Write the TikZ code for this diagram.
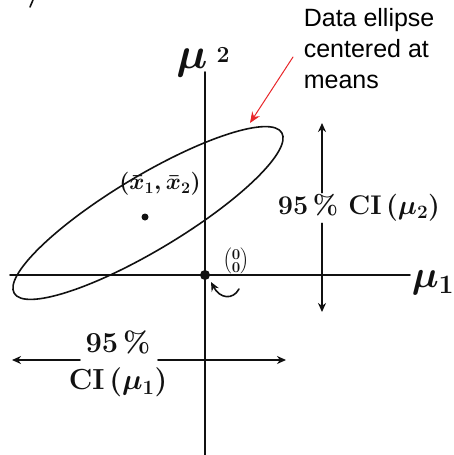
\RequirePackage{fix-cm}
\documentclass[tikz,border=0pt]{standalone}
\usepackage{amsmath}
\usepackage{fontspec}
\newfontfamily\noteFont{Liberation Sans}
\usetikzlibrary{arrows.meta}

\begin{document}
\begin{tikzpicture}[x=1pt, y=-1pt, line width=1.6pt, line cap=round]
    \definecolor{penColour}{HTML}{111111}
    \definecolor{noteColour}{HTML}{E8262A}
    \tikzset{
        hand/.style={text=penColour, inner sep=1pt, font=\bfseries\boldmath\fontsize{27}{37}\selectfont},
        tip/.style={-{Stealth[length=9pt, width=8pt]}}
    }

    \useasboundingbox (0,0) rectangle (453,455);
    \clip (0,0) rectangle (453,455);

    % Stray pen mark at the top
    \draw[penColour] (33,0) -- (30,7);

    % Draw axes
    \coordinate (axisLeft) at (10,275);
    \coordinate (axisRight) at (410,275);
    \coordinate (axisTop) at (205,72);
    \coordinate (axisBottom) at (205,460);
    \draw[penColour] (axisLeft) -- (axisRight);
    \draw[penColour] (axisTop) -- (axisBottom);
    \node[hand, font=\boldmath\fontsize{44}{46}\selectfont] (muTwo) at (203,62) {$\mu$\hskip 9pt\raisebox{6pt}{\bfseries\fontsize{23}{25}\selectfont 2}};
    \node[hand, font=\boldmath\fontsize{38}{40}\selectfont, anchor=west, inner sep=0pt] (muOne) at (411,283) {$\mu_1$};

    % Data ellipse centred at the means
    \coordinate (means) at (148,213);
    \draw[penColour, rotate around={31:(means)}] (means) ellipse [x radius=156pt, y radius=37pt];
    \coordinate (meanDot) at (145,217);
    \fill[penColour] (meanDot) circle (3.5pt);
    \node[hand, font=\boldmath\fontsize{23}{25}\selectfont] (meanLabel) at (160,184) {$(\bar{x}_1,\bar{x}_2)$};

    % Origin
    \coordinate (origin) at (205,275);
    \fill[penColour] (origin) circle (5pt);
    \node[hand, font=\bfseries\boldmath\fontsize{15}{13}\selectfont] (zero) at (236,261) {$\left(\vcenter{\hbox{\shortstack{0\\0}}}\right)$};
    \coordinate (zeroTail) at (239,289);
    \coordinate (zeroHead) at (211,282);
    \draw[penColour, tip] (zeroTail) .. controls (233,300) and (220,299) .. (zeroHead);

    % 95% CI for mu_2
    \coordinate (ciTwoTop) at (322,123);
    \coordinate (ciTwoBottom) at (322,312);
    \node[hand] (ciTwo) at (359,208) {95\,\% CI\,($\mu_2$)};
    \draw[penColour, tip] (ciTwo.north -| ciTwoTop) -- (ciTwoTop);
    \draw[penColour, tip] (ciTwo.south -| ciTwoTop) -- (ciTwoBottom);

    % 95% CI for mu_1
    \coordinate (ciOneLeft) at (12,360);
    \coordinate (ciOneRight) at (286,360);
    \node[hand, align=center, font=\bfseries\boldmath\fontsize{29}{37}\selectfont] (ciOne) at (118,364) {95\,\%\\CI\,($\mu_1$)};
    \draw[penColour, tip] (80,360) -- (ciOneLeft);
    \draw[penColour, tip] (158,360) -- (ciOneRight);

    % Note
    \node[anchor=north west, align=left, inner sep=0pt, font=\noteFont\fontsize{25}{31}\selectfont] (note) at (303,8) {Data ellipse\\centered at\\means};
    \coordinate (noteTail) at (293,57);
    \coordinate (noteHead) at (250,123);
    \draw[noteColour, line width=1pt, -{Stealth[length=11pt, width=9pt]}] (noteTail) -- (noteHead);

\end{tikzpicture}
\end{document}
